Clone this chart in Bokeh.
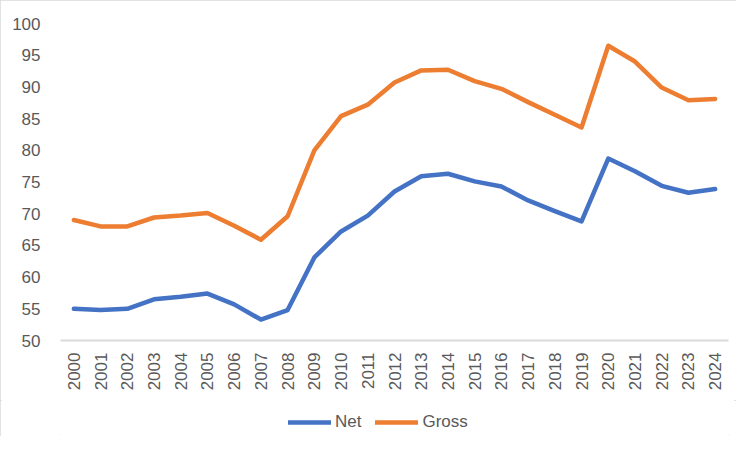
from bokeh.plotting import figure
from bokeh.models import FixedTicker, Legend, LegendItem, Range1d, FactorRange
from bokeh.layouts import column
from bokeh.embed import file_html
from bokeh.resources import INLINE
import math

years = [str(y) for y in range(2000, 2025)]
net = [55.0, 54.8, 55.0, 56.5, 56.9, 57.4, 55.7, 53.3, 54.8, 63.1, 67.2, 69.7,
       73.5, 75.9, 76.3, 75.1, 74.3, 72.1, 70.4, 68.8, 78.7, 76.7, 74.4, 73.3, 73.9]
gross = [69.0, 68.0, 68.0, 69.4, 69.7, 70.1, 68.1, 65.9, 69.6, 80.0, 85.4, 87.2,
         90.7, 92.6, 92.7, 90.9, 89.7, 87.6, 85.6, 83.6, 96.5, 94.0, 89.9, 87.9, 88.1]
y_ticks = [50, 55, 60, 65, 70, 75, 80, 85, 90, 95, 100]

FONT = "Liberation Sans"
TXT = "#595959"
C_NET = "#4472C4"
C_GROSS = "#ED7D31"

p = figure(width=736, height=400, x_range=FactorRange(factors=years),
           y_range=Range1d(50, 100), output_backend="svg", toolbar_location=None,
           min_border_left=60, min_border_right=8, min_border_top=23,
           min_border_bottom=60)
p.outline_line_color = None
p.xgrid.grid_line_color = None
p.ygrid.grid_line_color = None
p.background_fill_color = "white"
p.border_fill_color = "white"

p.line(years, net, line_color=C_NET, line_width=4.5, line_join="round", line_cap="round")
p.line(years, gross, line_color=C_GROSS, line_width=4.5, line_join="round", line_cap="round")

p.yaxis.ticker = FixedTicker(ticks=y_ticks)
p.yaxis.axis_line_color = None
p.yaxis.major_tick_line_color = None
p.yaxis.minor_tick_line_color = None
p.yaxis.major_label_standoff = 14
p.yaxis.major_label_text_font = FONT
p.yaxis.major_label_text_font_size = "17px"
p.yaxis.major_label_text_color = TXT

p.xaxis.axis_line_color = "#D9D9D9"
p.xaxis.axis_line_width = 2
p.xaxis.major_tick_line_color = None
p.xaxis.minor_tick_line_color = None
p.xaxis.major_label_orientation = math.pi / 2
p.xaxis.major_label_standoff = 6
p.xaxis.major_label_text_font = FONT
p.xaxis.major_label_text_font_size = "17px"
p.xaxis.major_label_text_color = TXT

# legend strip below the chart (frame is aligned with the main chart's frame)
lg = figure(width=736, height=36, output_backend="svg", toolbar_location=None,
            x_axis_type=None, y_axis_type=None, min_border=0,
            min_border_left=60, min_border_right=8,
            x_range=Range1d(0, 1), y_range=Range1d(0, 1))
lg.outline_line_color = None
lg.xgrid.grid_line_color = None
lg.ygrid.grid_line_color = None
lg.border_fill_color = "white"
lg.background_fill_color = "white"
# legend swatches only: their data lie outside the strip's visible range
d_net = lg.line([0, 1], [-5, -5], line_color=C_NET, line_width=4.5, line_cap="round")
d_gross = lg.line([0, 1], [-5, -5], line_color=C_GROSS, line_width=4.5, line_cap="round")

legend = Legend(items=[LegendItem(label="Net", renderers=[d_net]),
                       LegendItem(label="Gross", renderers=[d_gross])],
                orientation="horizontal", location=(228, 4),
                glyph_width=43, glyph_height=20, label_standoff=4, spacing=14,
                padding=2, margin=0, border_line_color=None,
                label_text_font=FONT, label_text_font_size="17px",
                label_text_color=TXT, background_fill_alpha=0)
lg.add_layout(legend)

layout = column(p, lg, spacing=0)
layout.styles = {"outline": "2px solid #D9D9D9", "outline-offset": "-2px"}

open("out.html", "w").write(file_html(layout, INLINE))
